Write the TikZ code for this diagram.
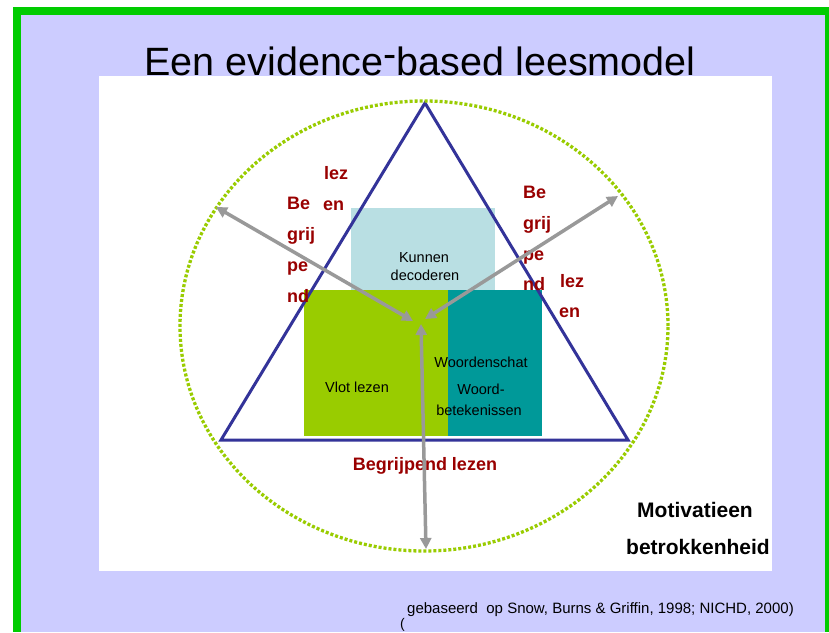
\documentclass[tikz,border=0pt]{standalone}
\usepackage{fontspec}
\setmainfont{Liberation Sans}
\usetikzlibrary{arrows.meta}
\definecolor{frameg}{HTML}{00CC00}
\definecolor{lav}{HTML}{CCCCFF}
\definecolor{lblue}{HTML}{B9DFE3}
\definecolor{lgreen}{HTML}{99CC00}
\definecolor{tealb}{HTML}{009999}
\definecolor{navyb}{HTML}{333399}
\definecolor{dred}{HTML}{990000}
\definecolor{arrg}{HTML}{999999}
\newcommand\fsz[1]{\fontsize{#1}{#1}\selectfont}
\begin{document}
\begin{tikzpicture}[x=1pt,y=-1pt,
  boxnode/.style={inner sep=0pt, outer sep=0pt, anchor=north west},
  lbl/.style={inner sep=0pt, anchor=base, font=\fsz{14.5}},
  redlbl/.style={inner sep=0pt, anchor=base west, text=dred, font=\fsz{18}\bfseries},
  blacklbl/.style={inner sep=0pt, anchor=base, font=\fsz{21}\bfseries},
  arr/.style={draw=arrg, line width=3.5pt,
    {Triangle[length=11pt,width=11pt]}-{Triangle[length=11pt,width=11pt]}},
  ring/.style={draw=lgreen, line width=3.3pt, dash pattern=on 3pt off 2pt},
  tri/.style={draw=navyb, line width=3pt, line join=miter}
]
\useasboundingbox (0,0) rectangle (829,632);
\fill[white] (0,0) rectangle (829,632);
\fill[frameg] (13,7) rectangle (829,632);
\fill[lav] (21,15) rectangle (825,632);
\fill[white] (99,76) rectangle (772,571);

% title
\node[anchor=base, inner sep=0pt, font=\fsz{39.5}] (title) at (420,75)
  {Een evidence\raisebox{0.2em}{-}based leesmodel};

% boxes
\node[boxnode, fill=lblue, minimum width=144pt, minimum height=82pt] (kdbox) at (351,208) {};
\node[boxnode, fill=lgreen, minimum width=144pt, minimum height=146pt] (vlbox) at (304,290) {};
\node[boxnode, fill=tealb, minimum width=94pt, minimum height=146pt] (wsbox) at (448,290) {};

\node[lbl] (kd1) at (424,262) {Kunnen};
\node[lbl] (kd2) at (425,280) {decoderen};
\node[lbl] (vl) at (357,392) {Vlot lezen};
\node[lbl] (ws1) at (481,367) {Woordenschat};
\node[lbl] (ws2) at (481,394) {Woord-};
\node[lbl] (ws3) at (479,415) {betekenissen};

% triangle
\coordinate (tA) at (425,103);
\coordinate (tL) at (221,440);
\coordinate (tR) at (628,440);
\draw[tri] (tA) -- (tL) -- (tR) -- cycle;

% ring
\draw[ring] (424,326) ellipse [x radius=244pt, y radius=225pt];

% red labels left
\node[redlbl] (l1) at (287,209) {Be};
\node[redlbl] (l2) at (287,240) {grij};
\node[redlbl] (l3) at (287,271) {pe};
\node[redlbl] (l4) at (287,302) {nd};
\node[redlbl] (l5) at (324,179) {lez};
\node[redlbl] (l6) at (323,210) {en};
% red labels right
\node[redlbl] (r1) at (523,198) {Be};
\node[redlbl] (r2) at (523,229) {grij};
\node[redlbl] (r3) at (523,260) {pe};
\node[redlbl] (r4) at (523,290) {nd};
\node[redlbl] (r5) at (560,287) {lez};
\node[redlbl] (r6) at (559,317) {en};

\node[redlbl, anchor=base] (bl) at (425,470) {Begrijpend lezen};

% arrows
\coordinate (outL) at (216,207);
\coordinate (outR) at (618,196);
\coordinate (outB) at (426,549);
\coordinate (inL) at (413,321);
\coordinate (inR) at (425,319);
\coordinate (inB) at (421,324);
\draw[arr] (outL) -- (inL);
\draw[arr] (outR) -- (inR);
\draw[arr] (outB) -- (inB);

% black labels
\node[blacklbl] (mot) at (695,517) {Motivatieen};
\node[blacklbl] (betr) at (698,554) {betrokkenheid};

% citation
\node[inner sep=0pt, anchor=base west, font=\fsz{14}] (par) at (400,628) {(};
\node[inner sep=0pt, anchor=base west, font=\fsz{15}] (cit) at (407,613)
  {gebaseerd\ \ op Snow, Burns \& Griffin, 1998; NICHD, 2000)};
\end{tikzpicture}
\end{document}
